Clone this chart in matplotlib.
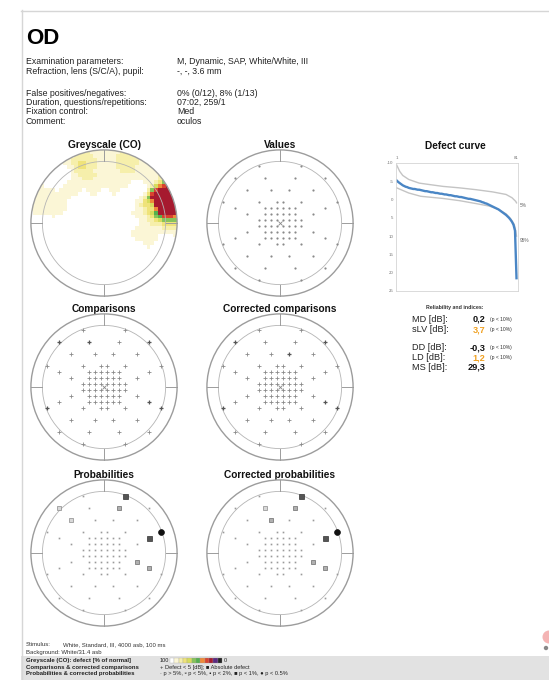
import numpy as np
import matplotlib
matplotlib.use("Agg")
import matplotlib.pyplot as plt
from matplotlib.patches import Circle, Rectangle
from matplotlib.colors import ListedColormap, BoundaryNorm

plt.rcParams['font.family'] = ['Liberation Sans', 'DejaVu Sans']

W, H = 549, 680

# ------------------------------------------------------------------ data
eye = "OD"
param_labels = ["Examination parameters:", "Refraction, lens (S/C/A), pupil:", None,
                "False positives/negatives:", "Duration, questions/repetitions:",
                "Fixation control:", "Comment:"]
param_values = ["M, Dynamic, SAP, White/White, III", "-, -, 3.6 mm", None,
                "0% (0/12), 8% (1/13)", "07:02, 259/1", "Med", "oculos"]

# test locations (rows of the M pattern, grid units)
row_y = [19, 15, 11, 7, 5, 3, 1, -1, -3, -5, -7, -11, -15, -19]
row_x = [[-7, 7], [-15, -5, 5, 15], [-11, -3, 3, 11], [-19, -7, -1, 1, 7, 19],
         [-15, -5, -3, -1, 1, 3, 5, 15], [-11, -5, -3, -1, 1, 3, 5, 11],
         [-7, -5, -3, -1, 1, 3, 5, 7], [-7, -5, -3, -1, 1, 3, 5, 7],
         [-11, -5, -3, -1, 1, 3, 5, 11], [-15, -5, -3, -1, 1, 3, 5, 15],
         [-19, -7, -1, 1, 7, 19], [-11, -3, 3, 11], [-15, -5, 5, 15], [-7, 7]]

# greyscale defect per location [dB] (unlisted = normal)
grey_defect = {(19, 7): 25, (15, 5): 3.6, (7, 19): 2.7, (-7, 19): 3.1,
               (-5, 15): 2.3, (5, 15): 2.0, (-11, 11): 1.8, (-3, 11): 1.7,
               (3, 11): 1.6, (15, 15): 1.4, (-19, 7): 1.9, (-15, 5): 1.8,
               (11, 3): 1.3, (11, -3): 1.8, (15, -5): 1.9}

# comparisons: shade of symbol (0 normal '+', 1 darker '+')
comp_dark = {(15, 15): 1, (-15, 15): 1, (15, -5): 1, (-19, -7): 1, (19, -7): 1,
             (-5, 15): 1, (7, 11): 1}
corr_comp_dark = {(15, 15): 1, (-15, 15): 1, (-19, -7): 1, (19, -7): 1,
                  (3, 11): 1, (15, -5): 1}

# probability classes: 0 p>5%, 1 p<5%, 2 p<2%, 3 p<1%, 4 p<0.5%
prob_cls = {(7, 19): 3, (5, 15): 2, (-11, 11): 1, (19, 7): 4, (15, 5): 3,
            (11, -3): 2, (15, -5): 2, (-15, 15): 1}
corr_prob_cls = {(7, 19): 3, (5, 15): 2, (-3, 11): 2, (19, 7): 4, (15, 5): 3,
                 (11, -3): 2, (15, -5): 2, (-5, 15): 1}

# defect (Bebie) curve, ranked defects [dB]
bebie = [-5.2, -4.8, -4.5, -4.2, -3.9, -3.7, -3.5, -3.4, -3.2, -3.1, -3.0, -2.9, -2.9,
         -2.8, -2.7, -2.7, -2.6, -2.5, -2.4, -2.3, -2.3, -2.2, -2.1, -2.0, -2.0, -1.9,
         -1.8, -1.8, -1.7, -1.6, -1.6, -1.5, -1.4, -1.4, -1.3, -1.2, -1.2, -1.1, -1.0,
         -0.9, -0.9, -0.8, -0.7, -0.7, -0.6, -0.5, -0.4, -0.3, -0.2, -0.2, -0.1, 0.0,
         0.1, 0.2, 0.3, 0.4, 0.5, 0.7, 0.8, 1.0, 1.1, 1.3, 1.5, 1.7, 1.9, 2.1, 2.3,
         2.5, 2.7, 3.0, 3.3, 3.6, 3.9, 4.2, 4.6, 5.0, 5.5, 6.1, 6.9, 8.5, 21.5]
norm5_rank = [1, 3, 5, 9, 16, 23, 32, 43, 54, 65, 74, 78, 80.5, 81]
norm5_db = [-9.4, -7.7, -6.6, -5.5, -4.5, -4.1, -3.6, -3.2, -2.7, -2.1, -1.4, -0.5, 0.5, 0.9]
norm95_rank = [1, 5, 9, 17, 32, 43, 54, 63, 69, 74, 77, 79.5, 80.5, 81]
norm95_db = [-3.2, -2.5, -1.8, -0.9, -0.3, 0.3, 1.1, 1.8, 2.7, 3.9, 5.2, 6.8, 8.6, 10.0]

idx_labels = ["MD [dB]:", "sLV [dB]:", "DD [dB]:", "LD [dB]:", "MS [dB]:"]
idx_values = ["0,2", "3,7", "-0,3", "1,2", "29,3"]
idx_p = ["(p < 10%)", "(p < 10%)", "(p < 10%)", "(p < 10%)", ""]
idx_flag = [False, True, False, True, False]

grey_edges = [-100, 1.0, 2.0, 3.0, 4.0, 4.7, 5.5, 6.5, 7.5, 9.0, 30, 35, 100]
grey_colors = ["#ffffff", "#fbf6d6", "#f6efab", "#efe37a", "#d6dc5c", "#86c45a",
               "#54b04f", "#ee8a3a", "#d9432e", "#a61a2f", "#5a2a80", "#222222"]

# ------------------------------------------------------------------ helpers
px_x = np.array([x for xs in row_x for x in xs], float)
px_y = np.array([y for y, xs in zip(row_y, row_x) for _ in xs], float)
keys = list(zip(px_x.astype(int), px_y.astype(int)))

fig = plt.figure(figsize=(W / 100, H / 100), dpi=100)
fig.patch.set_facecolor("white")


def box(x0, y0, x1, y1):
    return [x0 / W, 1 - y1 / H, (x1 - x0) / W, (y1 - y0) / H]


ax0 = fig.add_axes([0, 0, 1, 1])
ax0.set_xlim(0, W)
ax0.set_ylim(H, 0)
ax0.axis("off")

R_OUT, R_IN, S, LIM = 24.2, 20.4, 3.02, 25.5


def field_axes(cx, cy, title):
    a = fig.add_axes(box(cx - LIM * S, cy - LIM * S, cx + LIM * S, cy + LIM * S))
    a.set_xlim(-LIM, LIM)
    a.set_ylim(-LIM, LIM)
    a.set_aspect("equal")
    a.axis("off")
    ax0.text(cx, cy - 77.5, title, ha="center", va="center", fontsize=7.3,
             fontweight="bold", color="#111")
    return a


def rings(a):
    a.add_patch(Circle((0, 0), R_OUT, fill=False, ec="#9c9c9c", lw=1.0, zorder=5))
    a.add_patch(Circle((0, 0), R_IN, fill=False, ec="#b4b4b4", lw=0.6, zorder=5))
    for ang in (0, 90, 180, 270):
        c, s = np.cos(np.radians(ang)), np.sin(np.radians(ang))
        a.plot([R_IN * c, R_OUT * c], [R_IN * s, R_OUT * s], color="#9c9c9c",
               lw=0.7, zorder=5)


centers = {"grey": (104, 223), "values": (280, 223), "comp": (104, 387),
           "ccomp": (280, 387), "prob": (104, 553), "cprob": (280, 553)}

# ------------------------------------------------------------------ header
ax0.plot([21.5, 21.5], [10, H], color="#d6d6d6", lw=1)
ax0.plot([21, W], [10.5, 10.5], color="#d6d6d6", lw=1)
ax0.text(26, 38, eye, fontsize=16, fontweight="bold", va="center", ha="left")
ys = [61.5, 71.5, None, 93, 102.5, 112, 121.5]
for lab, val, y in zip(param_labels, param_values, ys):
    if lab is None:
        continue
    ax0.text(26, y, lab, fontsize=6.3, va="center", color="#222")
    ax0.text(177, y, val, fontsize=6.3, va="center", color="#222")

# ------------------------------------------------------------------ greyscale
a = field_axes(*centers["grey"], "Greyscale (CO)")
step = 1.25
g = np.arange(-LIM, LIM + step, step)
GX, GY = np.meshgrid(g, g)
vals = np.array([grey_defect.get(k, 0.0) for k in keys])
d2 = (GX[..., None] - px_x) ** 2 + (GY[..., None] - px_y) ** 2
w = 1.0 / (d2 ** 1.5 + 1e-3)
field = (w * vals).sum(-1) / w.sum(-1)
cmap = ListedColormap(grey_colors)
norm = BoundaryNorm(grey_edges, cmap.N)
im = a.imshow(field, origin="lower", cmap=cmap, norm=norm, interpolation="nearest",
              extent=[g[0] - step / 2, g[-1] + step / 2, g[0] - step / 2, g[-1] + step / 2])
im.set_clip_path(Circle((0, 0), R_OUT, transform=a.transData))
rings(a)

# ------------------------------------------------------------------ values
a = field_axes(*centers["values"], "Values")
a.plot(px_x, px_y, "o", ms=1.6, color="#8a8a8a", mec="none", zorder=6)
a.plot([0], [0], "x", ms=3, color="#888", mew=0.6)
rings(a)

# ------------------------------------------------------------------ comparisons
for key, title, dark in (("comp", "Comparisons", comp_dark),
                         ("ccomp", "Corrected comparisons", corr_comp_dark)):
    a = field_axes(*centers[key], title)
    sh = np.array([dark.get(k, 0) for k in keys])
    a.plot(px_x[sh == 0], px_y[sh == 0], "+", ms=2.6, mew=0.6, color="#8a8a8a", zorder=6)
    a.plot(px_x[sh == 1], px_y[sh == 1], "+", ms=3.0, mew=0.9, color="#555555", zorder=6)
    a.plot([0], [0], "x", ms=3, color="#888", mew=0.6)
    rings(a)

# ------------------------------------------------------------------ probabilities
styles = {0: dict(marker="s", ms=1.2, color="#9a9a9a", mec="none"),
          1: dict(marker="s", ms=2.6, mfc="#d8d8d8", mec="#8a8a8a", mew=0.5),
          2: dict(marker="s", ms=3.4, mfc="#b0b0b0", mec="#6a6a6a", mew=0.5),
          3: dict(marker="s", ms=3.6, mfc="#555555", mec="#333333", mew=0.5),
          4: dict(marker="o", ms=4.2, mfc="#111111", mec="#111111", mew=0.5)}
for key, title, cls in (("prob", "Probabilities", prob_cls),
                        ("cprob", "Corrected probabilities", corr_prob_cls)):
    a = field_axes(*centers[key], title)
    c = np.array([cls.get(k, 0) for k in keys])
    for lvl, st in styles.items():
        m = c == lvl
        if m.any():
            a.plot(px_x[m], px_y[m], ls="none", zorder=6, **st)
    rings(a)

# ------------------------------------------------------------------ defect curve
ax0.text(455.5, 146, "Defect curve", ha="center", va="center", fontsize=7.3,
         fontweight="bold", color="#111")
ad = fig.add_axes(box(396, 163, 518, 291))
ranks = np.arange(1, len(bebie) + 1)
ad.plot(norm5_rank, norm5_db, color="#c4c4c4", lw=1.0)
ad.plot(norm95_rank, norm95_db, color="#c4c4c4", lw=1.0)
ad.plot(ranks, bebie, color="#4a86c5", lw=1.7)
ad.set_xlim(0.5, 82)
ad.set_ylim(25, -10)
ad.set_yticks(np.arange(-10, 26, 5))
ad.set_yticklabels([str(v) for v in range(-10, 26, 5)], fontsize=3.2, color="#777")
ad.xaxis.tick_top()
ad.set_xticks([1, 81])
ad.set_xticklabels(["1", "81"], fontsize=3.2, color="#777")
ad.tick_params(length=0, pad=2)
for sp in ad.spines.values():
    sp.set_color("#d4d4d4")
    sp.set_linewidth(0.6)
ad.text(83, 1.7, "5%", fontsize=3.4, color="#666", va="center", clip_on=False)
ad.text(83, 11.3, "95%", fontsize=3.4, color="#666", va="center", clip_on=False)

# ------------------------------------------------------------------ indices
ax0.text(455, 307.5, "Reliability and indices:", ha="center", va="center",
         fontsize=3.8, fontweight="bold", color="#333")
for lab, val, p, flag, y in zip(idx_labels, idx_values, idx_p, idx_flag,
                                [319, 330, 348, 357.5, 367]):
    ax0.text(412, y, lab, fontsize=6.6, va="center", color="#222")
    ax0.text(485, y, val, fontsize=6.6, va="center", ha="right", fontweight="bold",
             color="#f0a020" if flag else "#111")
    ax0.text(490, y, p, fontsize=3.6, va="center", color="#333")

# ------------------------------------------------------------------ footer
ax0.text(26, 645, "Stimulus:", fontsize=4.3, va="center", color="#333")
ax0.text(63, 645, "White, Standard, III, 4000 asb, 100 ms", fontsize=4.3, va="center",
         color="#333")
ax0.text(26, 652.5, "Background: White/31.4 asb", fontsize=4.3, va="center", color="#333")
ax0.add_patch(Rectangle((21, 655.5), W - 21, H - 655.5, color="#e2e2e2", lw=0))
foot_l = ["Greyscale (CO): defect [% of normal]", "Comparisons & corrected comparisons",
          "Probabilities & corrected probabilities"]
for t, y in zip(foot_l, [660.5, 667.3, 674]):
    ax0.text(26, y, t, fontsize=4.3, va="center", fontweight="bold", color="#222")
ax0.text(160, 660.5, "100", fontsize=4.1, va="center", color="#222")
cw = 52 / len(grey_colors)
for i, col in enumerate(grey_colors):
    ax0.add_patch(Rectangle((170 + i * cw, 658), cw, 5, facecolor=col,
                            edgecolor="#999", lw=0.2))
ax0.text(224, 660.5, "0", fontsize=4.1, va="center", color="#222")
ax0.text(160, 667.3, "+ Defect < 5 [dB]; \u25A0 Absolute defect", fontsize=4.1,
         va="center", color="#222")
ax0.text(160, 674, "\u00B7 p > 5%, \u25AB p < 5%, \u25AA p < 2%, \u25A0 p < 1%, \u25CF p < 0.5%",
         fontsize=4.1, va="center", color="#222")

# stamp at right edge
ax0.add_patch(Circle((549, 637), 6.5, color="#f4b4b4", lw=0))
ax0.add_patch(Circle((546, 648), 2.2, color="#888888", lw=0))

fig.savefig("out.png", dpi=100)
